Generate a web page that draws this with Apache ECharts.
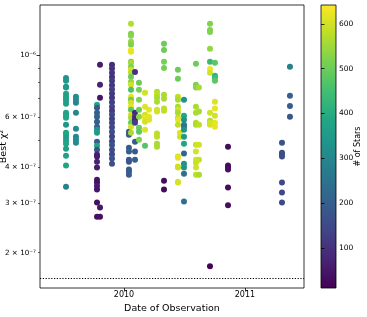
<!DOCTYPE html>
<html><head><meta charset="utf-8">
<script src="https://cdn.jsdelivr.net/npm/echarts@6/dist/echarts.min.js"></script>
<style>html,body{margin:0;padding:0;background:#fff}#c{width:367px;height:317px}</style>
</head><body><div id="c"></div>
<script>
// Observation dates (decimal year), one per observing run
const obsDates = [2009.521, 2009.603, 2009.777, 2009.802, 2009.901, 2010.041, 2010.058, 2010.091,
  2010.124, 2010.174, 2010.207, 2010.273, 2010.331, 2010.446, 2010.463, 2010.496, 2010.595,
  2010.620, 2010.711, 2010.752, 2010.860, 2011.306, 2011.372];
// Best chi^2 values in units of 1e-7, one list per date
const chi2E7 = [
  [8.29, 8.10, 7.72, 7.66, 7.29, 7.11, 7.00, 6.89, 6.72, 6.24, 6.14, 6.04, 5.99, 5.66, 5.31, 5.22, 5.09, 4.97, 4.85, 4.66, 4.40, 4.06, 3.42],
  [7.11, 6.94, 6.77, 6.24, 5.48, 5.13, 5.01, 4.89],
  [6.66, 6.50, 6.24, 6.04, 5.80, 5.57, 5.44, 5.31, 4.93, 4.77, 4.62, 4.44, 4.37, 4.19, 4.00, 3.62, 3.54, 3.44, 3.34, 3.01, 2.68],
  [9.22, 7.84, 7.05, 2.89, 2.68],
  [9.22, 8.95, 8.65, 8.35, 8.10, 7.80, 7.55, 7.30, 7.05, 6.80, 6.55, 6.35, 6.15, 5.95, 5.75, 5.55, 5.35, 5.15, 4.95, 4.80, 4.62, 4.45, 4.30, 4.12],
  [5.35, 5.22, 4.70, 4.55, 4.26, 4.19, 3.93, 3.87, 3.77],
  [12.87, 11.87, 11.67, 11.12, 10.85, 10.41, 10.25, 9.45, 9.37, 9.07, 8.85, 8.64, 8.36, 8.03, 7.84, 7.53, 7.11, 6.94, 6.77, 6.56, 6.40, 6.14, 5.99, 5.76, 5.57, 5.31],
  [8.70, 6.24, 6.04, 5.90, 5.76, 4.93, 4.55, 4.26],
  [7.97, 7.53, 6.94, 6.40, 6.04, 5.53, 5.35, 5.01],
  [7.35, 6.56, 6.14, 5.99, 5.80, 5.44, 4.77],
  [6.40, 6.04, 5.90],
  [7.41, 7.23, 7.05, 6.83, 6.40, 6.30, 5.27, 5.14, 4.85, 4.73],
  [10.94, 10.41, 9.45, 8.99, 7.23, 7.00, 6.46, 6.35, 3.59, 3.34],
  [8.85, 8.23, 7.11, 6.94, 6.56, 6.40, 6.24, 5.99, 5.90, 5.66, 4.37, 4.33, 4.03, 4.00, 3.56, 3.54],
  [5.31, 5.14],
  [6.94, 6.09, 5.90, 5.66, 5.57, 5.44, 5.14, 4.85, 4.48, 4.12, 4.00, 3.80, 3.03],
  [9.30, 7.84, 7.66, 6.56, 6.24, 5.76, 5.66, 4.81, 4.55, 4.26, 4.16, 4.00, 3.77],
  [7.66, 6.30, 5.66, 4.81, 4.26, 3.77],
  [12.87, 12.25, 12.05, 10.50, 9.45, 8.92, 8.64, 6.24, 5.85, 5.76, 5.66, 1.79],
  [9.37, 8.43, 8.29, 8.10, 6.83, 6.46, 6.09, 5.76, 5.57],
  [4.73, 4.06, 4.00, 3.93, 3.40, 2.94],
  [4.89, 4.51, 4.44, 4.37, 3.54, 3.26, 3.01],
  [9.07, 7.17, 6.60, 6.04]
];
// Number of stars for each point
const nStars = [
  [330, 340, 330, 350, 370, 360, 380, 370, 360, 380, 370, 390, 380, 340, 370, 380, 360, 370, 380, 360, 370, 380, 290],
  [310, 320, 300, 300, 310, 300, 320, 310],
  [390, 190, 200, 210, 190, 200, 330, 350, 200, 380, 180, 80, 60, 70, 60, 50, 40, 60, 50, 40, 40],
  [60, 70, 50, 50, 40],
  [90, 100, 110, 100, 120, 110, 130, 120, 110, 130, 140, 120, 150, 130, 140, 150, 160, 140, 150, 170, 160, 150, 170, 160],
  [200, 190, 190, 200, 190, 180, 190, 200, 190],
  [570, 520, 530, 540, 520, 630, 620, 500, 560, 520, 600, 580, 500, 540, 600, 460, 620, 500, 600, 620, 480, 600, 560, 500, 600, 560],
  [100, 90, 100, 80, 130, 190, 190, 200],
  [500, 510, 520, 500, 540, 500, 480, 520],
  [600, 610, 600, 620, 600, 610, 470],
  [620, 620, 610],
  [570, 580, 560, 560, 600, 600, 580, 580, 560, 560],
  [500, 500, 510, 510, 560, 560, 580, 580, 30, 30],
  [500, 500, 580, 560, 560, 600, 560, 580, 620, 580, 600, 620, 600, 590, 610, 600],
  [610, 600],
  [330, 390, 330, 300, 250, 330, 350, 380, 220, 330, 330, 240, 240],
  [500, 520, 530, 560, 560, 570, 560, 590, 600, 600, 590, 600, 580],
  [560, 560, 580, 600, 590, 560],
  [520, 520, 520, 540, 430, 630, 600, 600, 560, 600, 600, 15],
  [480, 420, 440, 480, 610, 620, 600, 620, 620],
  [30, 35, 30, 40, 30, 35],
  [170, 160, 160, 160, 150, 150, 150],
  [280, 200, 190, 180]
];
const chi2Floor = 1.62e-7;
const xTicks = [2010, 2011];
const yMinorTicksE7 = [2, 3, 4, 5, 6, 7, 8, 9];
const yLabelTicksE7 = [2, 3, 4, 6, 10];
const yLabelText = {2: '2 × 10⁻⁷', 3: '3 × 10⁻⁷', 4: '4 × 10⁻⁷', 6: '6 × 10⁻⁷', 10: '10⁻⁶'};
const cbTicks = [100, 200, 300, 400, 500, 600];
const starRange = [11, 642];
const xRange = [2009.306, 2011.488];
const yRange = [1.5e-7, 1.5e-6];
const viridis = ['#440154', '#482475', '#414487', '#355f8d', '#2a788e', '#21918c', '#22a884', '#44bf70', '#7ad151', '#bddf26', '#fde725'];

const L = Math.log10;
const points = [];
obsDates.forEach((d, i) => {
  chi2E7[i].forEach((c, j) => points.push([d, L(c * 1e-7), nStars[i][j]]));
});
const FONT = 'DejaVu Sans';
const e7 = v => Math.round(Math.pow(10, v) * 1e7);

const chart = echarts.init(document.getElementById('c'), null, {renderer: 'canvas'});
chart.setOption({
  animation: false,
  textStyle: {fontFamily: FONT, color: '#000'},
  grid: [
    {left: 40, top: 5, width: 264, height: 283, outerBoundsMode: 'none', containLabel: false,
     show: true, borderColor: '#000', borderWidth: 0.8, backgroundColor: 'transparent'},
    {left: 321, top: 5, width: 15, height: 283, outerBoundsMode: 'none', containLabel: false,
     show: true, borderColor: '#000', borderWidth: 0.8,
     backgroundColor: {type: 'linear', x: 0, y: 1, x2: 0, y2: 0,
       colorStops: viridis.map((c, k) => ({offset: k / (viridis.length - 1), color: c}))}}
  ],
  xAxis: [
    {type: 'value', gridIndex: 0, min: xRange[0], max: xRange[1],
     name: 'Date of Observation', nameLocation: 'middle', nameGap: 15,
     nameTextStyle: {fontSize: 9.5, fontFamily: FONT, color: '#000'},
     axisLine: {show: false}, splitLine: {show: false},
     axisTick: {customValues: xTicks, length: 3.5, lineStyle: {color: '#000', width: 0.8}},
     axisLabel: {customValues: xTicks, formatter: v => String(Math.round(v)), fontSize: 8, margin: 3, color: '#000', fontFamily: FONT}},
    {type: 'value', gridIndex: 1, min: 0, max: 1, show: false}
  ],
  yAxis: [
    {type: 'value', gridIndex: 0, min: L(yRange[0]), max: L(yRange[1]),
     name: 'Best χ²', nameLocation: 'middle', nameGap: 31, nameMoveOverlap: false,
     nameTextStyle: {fontSize: 9.5, fontFamily: FONT, color: '#000'},
     axisLine: {show: false}, splitLine: {show: false},
     axisTick: {customValues: yMinorTicksE7.map(v => L(v * 1e-7)), length: 2, lineStyle: {color: '#000', width: 0.6}},
     axisLabel: {customValues: yLabelTicksE7.map(v => L(v * 1e-7)), formatter: v => yLabelText[e7(v)] || '',
       fontSize: 7.2, margin: 4, color: '#000', fontFamily: FONT}},
    {type: 'value', gridIndex: 0, position: 'left', min: L(yRange[0]), max: L(yRange[1]),
     axisLine: {show: false}, splitLine: {show: false}, axisLabel: {show: false},
     axisTick: {customValues: [L(1e-6)], length: 3.5, lineStyle: {color: '#000', width: 0.8}}},
    {type: 'value', gridIndex: 1, position: 'right', min: starRange[0], max: starRange[1],
     name: '# of Stars', nameLocation: 'middle', nameRotate: 90, nameGap: 18, nameMoveOverlap: false,
     nameTextStyle: {fontSize: 8, fontFamily: FONT, color: '#000'},
     axisLine: {show: false}, splitLine: {show: false},
     axisTick: {customValues: cbTicks, length: 3.5, lineStyle: {color: '#000', width: 0.8}},
     axisLabel: {customValues: cbTicks, fontSize: 7.5, margin: 3, color: '#000', fontFamily: FONT}}
  ],
  visualMap: {type: 'continuous', show: false, min: starRange[0], max: starRange[1], dimension: 2,
    seriesIndex: 0, inRange: {color: viridis}},
  series: [{
    type: 'scatter', xAxisIndex: 0, yAxisIndex: 0, data: points, symbolSize: 6,
    itemStyle: {opacity: 1},
    markLine: {silent: true, symbol: 'none', label: {show: false},
      lineStyle: {type: [1.2, 1.6], color: '#000', width: 1.2},
      data: [{yAxis: L(chi2Floor)}]}
  }]
});
</script></body></html>
